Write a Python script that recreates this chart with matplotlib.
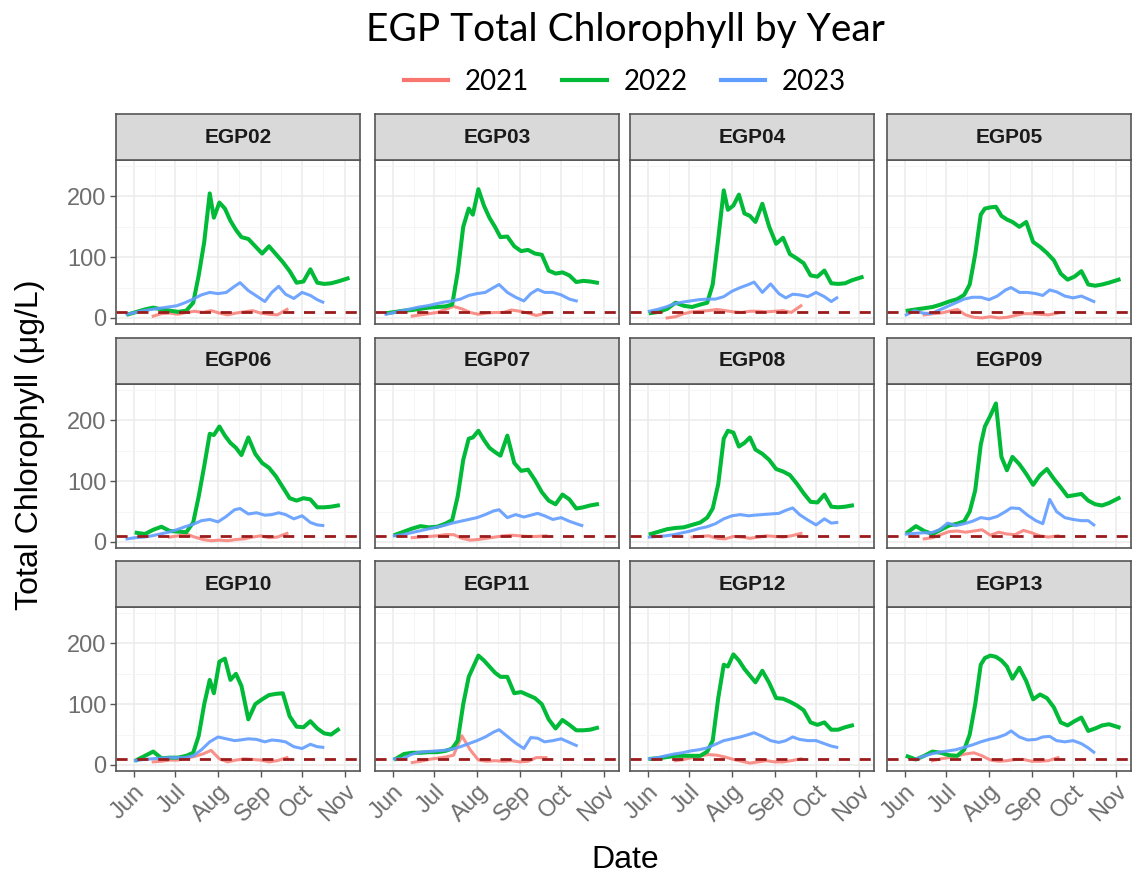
import numpy as np
import pandas as pd
import matplotlib
matplotlib.use("Agg")
import matplotlib.pyplot as plt
import matplotlib.dates as mdates
from matplotlib.lines import Line2D
from matplotlib.ticker import FixedLocator, MultipleLocator

plt.rcParams['font.family'] = ['Liberation Sans', 'DejaVu Sans']

nan = np.nan

stations = ["EGP02", "EGP03", "EGP04", "EGP05",
            "EGP06", "EGP07", "EGP08", "EGP09",
            "EGP10", "EGP11", "EGP12", "EGP13"]
years = ["2021", "2022", "2023"]
year_colors = ["#F8766D", "#00BA38", "#619CFF"]
threshold = 10

# sampling dates (month-day), plotted on a common calendar
dates_2021 = ["06-15", "06-21", "06-27", "07-03", "07-09", "07-15", "07-21", "07-27", "08-02",
              "08-08", "08-14", "08-20", "08-26", "09-01", "09-07", "09-13", "09-20"]
dates_2022 = ["05-28", "06-03", "06-09", "06-15", "06-21", "06-27", "07-03", "07-09", "07-14",
              "07-18", "07-22", "07-26", "07-29", "08-02", "08-06", "08-10", "08-14", "08-18",
              "08-23", "08-28", "09-02", "09-07", "09-12", "09-17", "09-22", "09-27", "10-02",
              "10-07", "10-12", "10-17", "10-22", "10-27", "11-03"]
dates_2023 = ["05-27", "06-02", "06-08", "06-14", "06-20", "06-26", "07-02", "07-08", "07-14",
              "07-20", "07-26", "08-01", "08-07", "08-13", "08-17", "08-23", "08-29", "09-04",
              "09-09", "09-14", "09-19", "09-25", "10-01", "10-07", "10-12", "10-16"]

# total chlorophyll (ug/L)
chl_2021 = {
    "EGP02": [3, 7, 8, 6, 9, 11, 9, 12, 8, 5, 8, 10, 12, 8, 6, 5, 14],
    "EGP03": [3, 5, 7, 9, 14, 19, 15, 9, 6, 8, 9, 9, 13, 11, 8, 4, 8],
    "EGP04": [0, 2, 7, 10, 11, 12, 14, 12, 10, 9, 11, 11, 10, 11, 12, 9, 20],
    "EGP05": [5, 7, 8, 11, 14, 5, 1, 0, 2, 0, 1, 4, 7, 7, 6, 5, 8],
    "EGP06": [nan, nan, 8, 10, 13, 8, 4, 2, 3, 2, 4, 5, 8, 10, 7, 8, 14],
    "EGP07": [7, 8, 9, 10, 12, 12, 6, 3, 4, 6, 8, 10, 11, 10, 9, 9, 10],
    "EGP08": [nan, nan, nan, 8, 9, 10, 6, 5, 9, 8, 6, 8, 10, 9, 8, 10, 14],
    "EGP09": [5, 7, 12, 17, 18, 16, 18, 20, 11, 16, 13, 12, 19, 15, 10, 8, 10],
    "EGP10": [5, 6, 8, 8, 11, 14, 18, 24, 10, 5, 8, 10, 9, 8, 5, 7, 12],
    "EGP11": [4, 6, 9, 11, 13, 16, 48, 25, 8, 6, 7, 6, 7, 5, 6, 12, 12],
    "EGP12": [nan, 7, 9, 12, 15, 17, 16, 13, 9, 6, 3, 5, 7, 5, 5, 7, 10],
    "EGP13": [nan, 7, 10, 12, 15, 18, 20, 15, 8, 6, 7, 9, 9, 6, 6, 7, 12],
}
chl_2022 = {
    "EGP02": [6, 10, 14, 17, 14, 12, 10, 12, 25, 70, 125, 205, 165, 190, 180, 160, 145, 133,
              130, 118, 106, 118, 105, 92, 77, 58, 60, 80, 58, 56, 57, 60, 65],
    "EGP03": [8, 10, 12, 13, 15, 17, 18, 19, 22, 75, 150, 180, 170, 212, 185, 165, 150, 133,
              134, 118, 110, 112, 106, 104, 78, 73, 75, 70, 59, 61, 60, 58, nan],
    "EGP04": [nan, 8, 10, 15, 25, 20, 18, 22, 25, 55, 130, 210, 178, 185, 203, 172, 168, 158,
              188, 150, 122, 132, 105, 98, 90, 70, 68, 78, 57, 56, 57, 62, 67],
    "EGP05": [nan, 12, 14, 16, 18, 22, 27, 31, 38, 55, 105, 170, 180, 182, 183, 168, 162, 158,
              150, 158, 125, 117, 107, 95, 73, 63, 68, 77, 55, 53, 55, 58, 63],
    "EGP06": [nan, 15, 13, 20, 25, 18, 17, 16, 32, 75, 125, 178, 176, 190, 175, 163, 155, 143,
              172, 145, 130, 122, 108, 90, 72, 68, 72, 70, 57, 57, 58, 60, nan],
    "EGP07": [nan, 12, 17, 22, 26, 24, 25, 30, 36, 75, 135, 170, 172, 183, 168, 155, 148, 142,
              175, 130, 117, 119, 102, 82, 68, 62, 78, 70, 55, 57, 60, 62, nan],
    "EGP08": [nan, 13, 17, 21, 23, 24, 28, 32, 40, 55, 95, 170, 183, 180, 157, 163, 172, 152,
              145, 135, 120, 116, 110, 96, 80, 66, 65, 78, 58, 57, 58, 60, nan],
    "EGP09": [nan, 16, 26, 18, 13, 20, 27, 30, 34, 50, 85, 160, 190, 208, 228, 140, 118, 140,
              128, 112, 94, 110, 120, 104, 90, 75, 77, 79, 68, 62, 60, 64, 72],
    "EGP10": [nan, 8, 15, 22, 11, 12, 12, 15, 20, 48, 100, 140, 118, 170, 175, 140, 150, 130,
              75, 100, 108, 115, 117, 118, 80, 63, 62, 72, 60, 52, 50, 58, nan],
    "EGP11": [nan, 10, 18, 20, 20, 21, 21, 23, 27, 40, 100, 145, 160, 180, 172, 162, 152, 145,
              145, 118, 120, 115, 110, 100, 75, 60, 74, 66, 57, 57, 58, 61, nan],
    "EGP12": [nan, 10, 11, 13, 15, 15, 15, 15, 22, 40, 110, 165, 162, 182, 172, 158, 147, 136,
              155, 135, 110, 109, 104, 98, 90, 70, 66, 70, 58, 58, 62, 65, nan],
    "EGP13": [nan, 14, 9, 15, 22, 20, 16, 15, 25, 50, 100, 165, 176, 180, 178, 172, 162, 142,
              160, 138, 108, 116, 110, 95, 70, 65, 72, 78, 56, 60, 65, 67, 62],
}
chl_2023 = {
    "EGP02": [6, 9, 12, 14, 16, 18, 20, 25, 31, 38, 42, 40, 42, 52, 58, 45, 36, 27, 42, 52,
              39, 32, 42, 37, 30, 26],
    "EGP03": [6, 9, 12, 15, 18, 20, 23, 26, 28, 31, 37, 40, 42, 50, 55, 42, 34, 28, 40, 47,
              42, 42, 38, 31, 28, nan],
    "EGP04": [nan, 11, 14, 18, 23, 26, 28, 30, 31, 31, 35, 44, 50, 55, 59, 42, 56, 40, 33, 39,
              38, 35, 42, 35, 27, 33],
    "EGP05": [nan, 5, 12, 8, 7, 13, 19, 25, 31, 34, 34, 30, 36, 46, 50, 42, 42, 40, 37, 46,
              43, 36, 33, 36, 31, 27],
    "EGP06": [5, 7, 8, 10, 13, 16, 20, 25, 29, 35, 37, 33, 42, 53, 55, 46, 48, 44, 45, 48,
              45, 38, 43, 32, 28, 27],
    "EGP07": [nan, 10, 12, 15, 18, 21, 24, 27, 31, 34, 37, 40, 45, 51, 53, 40, 45, 41, 44, 47,
              43, 37, 40, 34, 30, 27],
    "EGP08": [nan, 8, 9, 10, 12, 15, 18, 22, 25, 30, 38, 43, 45, 43, 44, 45, 46, 47, 52, 56,
              45, 36, 28, 38, 31, 32],
    "EGP09": [nan, 13, 14, 15, 15, 20, 31, 27, 30, 34, 40, 38, 42, 50, 56, 55, 44, 35, 30, 70,
              50, 40, 37, 35, 35, 28],
    "EGP10": [nan, 7, 9, 10, 11, 12, 12, 12, 15, 25, 38, 46, 43, 40, 41, 43, 42, 38, 41, 40,
              38, 30, 27, 34, 30, 29],
    "EGP11": [nan, 10, 10, 17, 21, 22, 23, 24, 26, 30, 35, 40, 46, 54, 58, 47, 36, 27, 45, 44,
              38, 40, 43, 37, 32, nan],
    "EGP12": [nan, 10, 12, 15, 18, 20, 23, 25, 28, 34, 40, 43, 46, 50, 53, 47, 40, 37, 40, 46,
              42, 40, 40, 35, 31, 29],
    "EGP13": [nan, nan, 9, 14, 18, 21, 23, 25, 29, 33, 38, 42, 45, 50, 56, 46, 41, 42, 46, 47,
              40, 38, 40, 35, 28, 21],
}


def to_dates(md):
    return pd.to_datetime(["2022-" + d for d in md])


series = [(to_dates(dates_2021), chl_2021, 2.2, 0.8),
          (to_dates(dates_2022), chl_2022, 2.9, 1.0),
          (to_dates(dates_2023), chl_2023, 2.2, 0.9)]

W, H = 1138, 880
fig = plt.figure(figsize=(W / 100, H / 100), dpi=100)

col_left = [116, 375, 630, 887]
row_top = [160, 384, 607]
pw, ph, sh = 244, 164, 46

for i, st in enumerate(stations):
    r, c = divmod(i, 4)
    x0, y0 = col_left[c], row_top[r]
    ax = fig.add_axes([x0 / W, 1 - (y0 + ph) / H, pw / W, ph / H])
    for (d, vals, lw, a), col in zip(series, year_colors):
        ax.plot(d, vals[st], color=col, lw=lw, alpha=a, solid_joinstyle='round')
    ax.axhline(threshold, color="#9B1B1B", lw=2.0, dashes=(4, 3.5))

    ax.set_xlim(pd.Timestamp("2022-05-19"), pd.Timestamp("2022-11-12"))
    ax.set_ylim(-10, 260)
    ax.yaxis.set_major_locator(FixedLocator([0, 100, 200]))
    ax.yaxis.set_minor_locator(MultipleLocator(50))
    ax.xaxis.set_major_locator(mdates.MonthLocator())
    ax.xaxis.set_minor_locator(mdates.DayLocator(bymonthday=16))
    ax.xaxis.set_major_formatter(mdates.DateFormatter("%b"))
    ax.grid(which="major", color="#EBEBEB", lw=1.1)
    ax.grid(which="minor", color="#F4F4F4", lw=0.6)
    ax.set_axisbelow(True)
    for sp in ax.spines.values():
        sp.set_color("#555555")
        sp.set_linewidth(1.2)
    ax.tick_params(which="minor", length=0)
    ax.tick_params(which="major", length=4, width=1, color="#555555",
                   labelcolor="#6E6E6E", labelsize=17, pad=3)
    left = c == 0
    bottom = r == 2
    ax.tick_params(axis="y", left=left, labelleft=left)
    ax.tick_params(axis="x", bottom=bottom, labelbottom=bottom)
    if bottom:
        for lab in ax.get_xticklabels():
            lab.set_rotation(45)
            lab.set_ha("right")
            lab.set_rotation_mode("anchor")

    sax = fig.add_axes([x0 / W, 1 - y0 / H, pw / W, sh / H])
    sax.set_facecolor("#D9D9D9")
    sax.set_xticks([])
    sax.set_yticks([])
    for sp in sax.spines.values():
        sp.set_color("#555555")
        sp.set_linewidth(1.2)
    sax.text(0.5, 0.5, st, ha="center", va="center", fontsize=15,
             fontweight="bold", color="#1A1A1A", transform=sax.transAxes)

fig.text(625 / W, 1 - 30 / H, "EGP Total Chlorophyll by Year", ha="center", va="center",
         fontsize=28, family=["Lato", "DejaVu Sans"])
handles = [Line2D([], [], color=c, lw=3) for c in year_colors]
fig.legend(handles, years, loc="center", bbox_to_anchor=(625 / W, 1 - 82 / H), ncol=3,
           frameon=False, prop={"family": ["Lato", "DejaVu Sans"], "size": 20},
           handlelength=1.6, handletextpad=0.6, columnspacing=1.2)
fig.text(30 / W, 1 - 445 / H, "Total Chlorophyll (μg/L)", rotation=90, ha="center",
         va="center", fontsize=23)
fig.text(625 / W, 1 - 860 / H, "Date", ha="center", va="center", fontsize=23)

fig.savefig("out.png", dpi=100)
